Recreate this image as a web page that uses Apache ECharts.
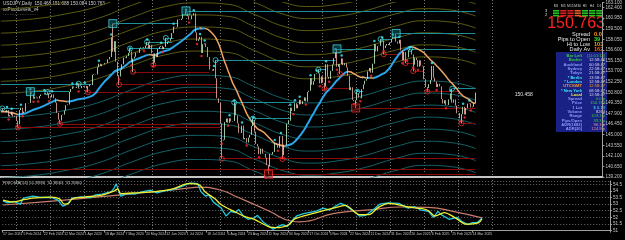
<!DOCTYPE html>
<html>
<head>
<meta charset="utf-8">
<script src="https://cdn.jsdelivr.net/npm/echarts@6/dist/echarts.min.js"></script>
<style>
html, body { margin: 0; padding: 0; background: #000; }
#chart { width: 625px; height: 240px; }
</style>
</head>
<body>
<div id="chart"></div>
<script>
// ---- data (USDJPY daily) ----
var firstDay = '2024-01-17';
var skipDays = ['2024-03-29', '2024-12-25', '2025-01-01'];
var futureBars = 81;   // empty space MT4 keeps right of the last bar

var closes = [
  // Jan 2024
  148.15, 148.14, 148.13, 148.10, 148.37, 147.50, 147.66, 148.13, 147.48, 147.60, 146.91,
  // Feb
  146.43, 148.37, 148.69, 147.92, 148.16, 149.30, 149.29, 149.34, 150.80, 150.59, 149.93,
  150.20, 150.08, 149.96, 150.29, 150.50, 150.51, 150.68, 150.50, 150.67, 149.98,
  // Mar
  150.11, 150.52, 149.99, 149.38, 147.98, 147.06, 146.94, 147.68, 147.74, 148.30, 149.03,
  149.13, 150.85, 151.26, 151.60, 151.43, 151.40, 151.56, 151.33, 151.37,
  // Apr
  151.67, 151.56, 151.69, 151.34, 151.63, 151.85, 151.79, 153.21, 153.30, 153.25, 154.23,
  154.71, 154.39, 154.64, 154.63, 154.80, 154.83, 155.32, 155.63, 158.32, 156.34, 157.80,
  // May
  155.00, 153.03, 152.97, 153.92, 154.64, 155.55, 155.48, 155.76, 156.20, 156.40, 154.93,
  155.42, 155.67, 156.24, 156.20, 156.79, 156.95, 156.99, 156.87, 157.19, 157.62, 156.80, 157.30,
  // Jun
  156.12, 154.82, 156.13, 155.63, 156.74, 157.04, 157.17, 156.70, 157.03, 157.40, 157.73,
  157.85, 158.14, 158.91, 159.79, 159.69, 159.73, 160.78, 160.70, 160.88,
  // Jul
  161.47, 161.45, 161.70, 161.22, 160.76, 160.82, 161.33, 161.62, 158.99, 157.84, 158.07,
  158.39, 156.18, 157.38, 157.50, 157.00, 155.62, 153.92, 153.92, 153.76, 154.00, 152.73, 149.98,
  // Aug
  149.34, 146.55, 144.18, 144.30, 146.71, 147.21, 146.62, 147.24, 146.82, 146.87, 149.27,
  147.63, 146.54, 145.24, 145.22, 146.24, 144.37, 144.53, 143.91, 144.59, 144.97, 146.17,
  // Sep
  146.93, 145.41, 143.73, 143.40, 142.32, 143.08, 142.42, 142.38, 141.84, 140.82, 140.64,
  142.34, 142.29, 142.62, 143.86, 143.60, 143.20, 144.78, 144.82, 142.19, 143.63,
  // Oct
  143.54, 146.50, 146.90, 148.69, 148.22, 148.21, 149.31, 148.61, 149.13, 149.77, 149.17,
  149.62, 150.10, 149.53, 150.85, 151.01, 152.74, 151.83, 152.31, 153.30, 153.39, 153.39, 152.03,
  // Nov
  152.98, 152.12, 151.60, 154.64, 152.92, 152.64, 153.73, 154.62, 155.47, 156.27, 154.30,
  154.66, 154.63, 155.44, 154.51, 154.79, 154.19, 153.07, 151.10, 151.49, 149.76,
  // Dec
  149.58, 149.71, 150.60, 150.08, 149.99, 151.22, 151.88, 152.39, 152.64, 153.67, 154.13,
  153.48, 154.72, 157.40, 156.41, 157.14, 157.17, 157.83, 157.89, 156.87, 157.20,
  // Jan 2025
  157.42, 157.27, 157.63, 158.10, 158.30, 158.19, 157.73, 157.47, 158.00, 156.53, 155.18,
  156.33, 155.60, 155.59, 156.56, 156.57, 155.97, 154.58, 155.52, 155.21, 154.30, 155.17,
  // Feb
  154.45, 154.36, 152.58, 151.51, 151.40, 151.92, 152.48, 154.41, 152.81, 152.28, 151.51,
  151.96, 151.60, 149.88, 149.27, 149.71, 149.04, 149.07, 149.83, 150.63,
  // Mar
  149.39, 149.82, 148.97, 147.93, 147.97, 147.22, 147.81, 148.82, 147.76, 148.64, 149.24,
  149.28, 148.73, 148.82, 149.32, 150.763
];

// mid line of the envelope fan, and the offsets of its lines
var bandMid = [
  ['2024-01-17', 149.0], ['2024-02-15', 149.3], ['2024-03-15', 150.0], ['2024-04-15', 151.0],
  ['2024-05-15', 152.8], ['2024-06-14', 154.3], ['2024-07-15', 154.8], ['2024-08-09', 154.6],
  ['2024-09-02', 153.3], ['2024-10-01', 151.5], ['2024-10-23', 151.0], ['2024-11-15', 151.3],
  ['2024-12-10', 152.0], ['2025-01-10', 153.3], ['2025-02-05', 154.0], ['2025-03-03', 153.8],
  ['2025-03-24', 153.0]
];
var bandOffsets = [1.65, 3.3, 4.95, 6.6, 8.25, 9.9, 11.55, 13.2];

// support / resistance lines: [from, to, price]
var highLevels = [
  ['2024-01-17', '2024-02-02', 148.6], ['2024-01-17', '2024-04-09', 151.9],
  ['2024-02-13', '2024-03-19', 150.89], ['2024-04-29', '2024-06-26', 160.21],
  ['2024-05-14', '2024-06-19', 156.8], ['2024-05-29', '2024-06-20', 157.7],
  ['2024-06-14', '2024-06-21', 158.25], ['2024-07-03', '2025-03-24', 161.95],
  ['2024-07-30', '2024-11-14', 155.2], ['2024-08-15', '2024-10-09', 149.4],
  ['2024-09-02', '2024-10-04', 147.2], ['2024-10-30', '2024-11-06', 153.9],
  ['2024-11-15', '2024-12-19', 156.75], ['2024-12-04', '2024-12-10', 150.9],
  ['2024-12-26', '2025-01-07', 158.08], ['2025-01-10', '2025-03-24', 158.87],
  ['2025-01-23', '2025-03-24', 156.75], ['2025-03-03', '2025-03-24', 151.3]
];
var lowLevels = [
  ['2024-01-17', '2025-03-24', 140.25], ['2024-02-01', '2024-08-02', 146.0],
  ['2024-03-11', '2024-08-02', 146.48], ['2024-04-05', '2024-07-31', 150.8],
  ['2024-05-03', '2024-07-30', 151.86], ['2024-05-16', '2024-07-24', 153.6],
  ['2024-06-04', '2024-07-25', 154.55], ['2024-08-05', '2025-03-24', 141.7],
  ['2024-09-16', '2025-03-24', 139.58], ['2024-11-05', '2024-11-27', 151.3],
  ['2024-11-19', '2024-11-26', 153.3], ['2024-12-03', '2025-03-24', 148.65],
  ['2024-12-30', '2025-01-15', 156.0], ['2025-01-20', '2025-01-27', 154.8],
  ['2025-01-27', '2025-02-05', 153.7], ['2025-02-07', '2025-03-10', 150.9],
  ['2025-03-11', '2025-03-24', 146.55]
];

// swing points (also the wick ends of those days)
var majorHighs = [['2024-02-13', 150.89], ['2024-04-29', 160.21], ['2024-07-03', 161.95],
  ['2024-11-15', 156.75], ['2025-01-10', 158.87]];
var majorLows = [['2024-09-16', 139.58], ['2024-12-03', 148.65]];
var minorHighs = [['2024-01-18', 148.6], ['2024-02-28', 150.8], ['2024-03-27', 151.97],
  ['2024-05-14', 156.8], ['2024-05-29', 157.7], ['2024-06-14', 158.25], ['2024-07-30', 155.2],
  ['2024-08-15', 149.4], ['2024-09-02', 147.2], ['2024-10-30', 153.9], ['2024-12-04', 150.9],
  ['2024-12-26', 158.08], ['2025-01-23', 156.75], ['2025-03-03', 151.3]];
var minorLows = [['2024-02-01', 146.0], ['2024-03-11', 146.48], ['2024-04-05', 150.8],
  ['2024-05-03', 151.86], ['2024-05-16', 153.6], ['2024-06-04', 154.55], ['2024-08-05', 141.7],
  ['2024-09-27', 141.65], ['2024-11-05', 151.3], ['2024-11-19', 153.3], ['2024-12-30', 156.0],
  ['2025-01-20', 154.8], ['2025-01-27', 153.7], ['2025-02-07', 150.9], ['2025-03-11', 146.55]];

// lower window oscillator
var oscFast = [
  ['2024-01-17', 53.25], ['2024-01-22', 53.1], ['2024-01-26', 53.2], ['2024-02-01', 53.0],
  ['2024-02-05', 53.45], ['2024-02-13', 53.6], ['2024-02-20', 53.5], ['2024-02-29', 53.5],
  ['2024-03-06', 53.3], ['2024-03-11', 52.85], ['2024-03-14', 53.0], ['2024-03-19', 53.45],
  ['2024-03-27', 53.55], ['2024-04-05', 53.5], ['2024-04-10', 53.7], ['2024-04-16', 53.75],
  ['2024-04-24', 53.95], ['2024-04-26', 54.25], ['2024-04-29', 54.55], ['2024-05-02', 53.6],
  ['2024-05-08', 53.8], ['2024-05-15', 53.75], ['2024-05-22', 53.95], ['2024-05-29', 54.05],
  ['2024-06-04', 53.85], ['2024-06-11', 54.0], ['2024-06-18', 54.1], ['2024-06-26', 54.35],
  ['2024-07-03', 54.6], ['2024-07-10', 54.55], ['2024-07-12', 53.95], ['2024-07-17', 53.6],
  ['2024-07-19', 53.7], ['2024-07-24', 53.15], ['2024-07-31', 52.7], ['2024-08-05', 52.1],
  ['2024-08-08', 52.45], ['2024-08-13', 52.35], ['2024-08-15', 52.6], ['2024-08-20', 52.1],
  ['2024-08-23', 51.85], ['2024-08-29', 51.95], ['2024-09-02', 52.15], ['2024-09-06', 51.6],
  ['2024-09-11', 51.35], ['2024-09-16', 51.1], ['2024-09-19', 51.3], ['2024-09-24', 51.45],
  ['2024-09-27', 51.3], ['2024-10-02', 51.75], ['2024-10-07', 52.1], ['2024-10-14', 52.3],
  ['2024-10-23', 52.45], ['2024-10-30', 52.7], ['2024-11-05', 52.55], ['2024-11-08', 52.8],
  ['2024-11-14', 53.05], ['2024-11-19', 52.9], ['2024-11-27', 52.4], ['2024-12-02', 52.1],
  ['2024-12-06', 52.15], ['2024-12-13', 52.6], ['2024-12-19', 53.0], ['2024-12-27', 53.1],
  ['2025-01-08', 53.05], ['2025-01-16', 52.7], ['2025-01-22', 52.8], ['2025-01-28', 52.55],
  ['2025-02-04', 52.45], ['2025-02-07', 52.0], ['2025-02-12', 52.45], ['2025-02-14', 52.2],
  ['2025-02-21', 51.85], ['2025-02-28', 52.0], ['2025-03-05', 51.7], ['2025-03-11', 51.45],
  ['2025-03-14', 51.6], ['2025-03-19', 51.6], ['2025-03-24', 51.92]
];
var oscSignal = [
  ['2024-01-17', 53.3], ['2024-01-25', 53.16], ['2024-02-06', 53.35], ['2024-02-13', 53.46],
  ['2024-02-29', 53.53], ['2024-03-07', 53.4], ['2024-03-12', 53.0], ['2024-03-15', 53.08],
  ['2024-03-19', 53.4], ['2024-04-01', 53.53], ['2024-04-16', 53.68], ['2024-04-26', 54.0],
  ['2024-04-30', 54.15], ['2024-05-02', 53.8], ['2024-05-15', 53.85], ['2024-06-03', 53.95],
  ['2024-06-18', 54.15], ['2024-07-02', 54.55], ['2024-07-11', 54.45], ['2024-07-17', 53.9],
  ['2024-07-25', 53.4], ['2024-07-31', 52.95], ['2024-08-13', 52.4], ['2024-08-21', 52.05],
  ['2024-08-29', 51.85], ['2024-09-11', 51.3], ['2024-09-20', 51.22], ['2024-09-30', 51.44],
  ['2024-10-04', 51.9], ['2024-10-23', 52.34], ['2024-11-08', 52.71], ['2024-11-19', 52.9],
  ['2024-12-02', 52.2], ['2024-12-10', 52.2], ['2024-12-18', 52.75], ['2024-12-30', 53.05],
  ['2025-01-16', 52.78], ['2025-01-29', 52.65], ['2025-02-04', 52.5], ['2025-02-10', 52.1],
  ['2025-02-18', 52.35], ['2025-02-27', 51.96], ['2025-03-10', 51.48], ['2025-03-20', 51.6],
  ['2025-03-24', 51.89]
];
var oscSlow = [
  ['2024-01-17', 52.93], ['2024-03-12', 53.3], ['2024-04-30', 53.68], ['2024-06-14', 54.05],
  ['2024-07-05', 54.25], ['2024-07-11', 54.28], ['2024-07-31', 54.05], ['2024-08-13', 53.6],
  ['2024-09-11', 52.5], ['2024-10-02', 51.7], ['2024-10-09', 51.66], ['2024-11-08', 52.3],
  ['2024-12-10', 52.56], ['2025-01-10', 52.78], ['2025-02-04', 52.75], ['2025-02-27', 52.41],
  ['2025-03-24', 51.96]
];

var headerText = 'USDJPY,Daily  150.468 151.088 150.084 150.763';
var subTitle = 'RSIOMA(14) 51.8936  51.8663  51.9460';
var noteText = '150.458';
var notePrice = 150.458;

// ---- helpers ----
var months = ['Jan','Feb','Mar','Apr','May','Jun','Jul','Aug','Sep','Oct','Nov','Dec'];
var dates = [];
(function () {
  var d = new Date(firstDay + 'T00:00:00Z');
  while (dates.length < closes.length + futureBars) {
    var key = d.toISOString().slice(0, 10);
    var wd = d.getUTCDay();
    if (wd !== 0 && wd !== 6 && skipDays.indexOf(key) < 0) dates.push(key);
    d.setUTCDate(d.getUTCDate() + 1);
  }
})();
var lastIdx = closes.length - 1;
var labelEvery = 13;

function fmtDate(s) {
  var p = s.split('-');
  return (+p[2]) + ' ' + months[+p[1] - 1] + ' ' + p[0];
}
function showLabel(idx) { return idx <= lastIdx && idx % labelEvery === 0; }

// wick ends taken from the swing lists
var wickHi = {}, wickLo = {};
majorHighs.concat(minorHighs).forEach(function (p) { wickHi[p[0]] = p[1]; });
majorLows.concat(minorLows).forEach(function (p) { wickLo[p[0]] = p[1]; });

var candles = closes.map(function (c, i) {
  var o = i ? closes[i - 1] : c;
  var hi = Math.max(o, c), lo = Math.min(o, c);
  if (wickHi[dates[i]] > hi) hi = wickHi[dates[i]];
  if (wickLo[dates[i]] < lo) lo = wickLo[dates[i]];
  return [o, c, lo, hi];
});

// fractal dots
var hiDots = [], loDots = [];
for (var i = 2; i < closes.length - 2; i++) {
  var c = closes[i];
  if (c > closes[i - 1] && c > closes[i - 2] && c >= closes[i + 1] && c >= closes[i + 2]) hiDots.push([dates[i], c]);
  if (c < closes[i - 1] && c < closes[i - 2] && c <= closes[i + 1] && c <= closes[i + 2]) loDots.push([dates[i], Math.min(c, closes[i - 1])]);
}

// trend moving average, blue while rising, orange while falling
var maPeriod = 25;
var ma = closes.map(function (c, i) {
  var s = 0, n = 0;
  for (var j = Math.max(0, i - maPeriod + 1); j <= i; j++) { s += closes[j]; n++; }
  return s / n;
});
var maUp = [], maDown = [];
ma.forEach(function (v, i) {
  var before = i === 0 ? null : v >= ma[i - 1];
  var after = i === ma.length - 1 ? null : ma[i + 1] >= v;
  maUp.push(before === true || after === true ? v : null);
  maDown.push(before === false || after === false ? v : null);
});

var series = [];
bandOffsets.forEach(function (off) {
  series.push({
    type: 'line', xAxisIndex: 0, yAxisIndex: 0, smooth: true, symbol: 'none', silent: true, z: 1,
    lineStyle: { color: '#5c5c12', width: 1 },
    data: bandMid.map(function (p) { return [p[0], p[1] + off]; })
  });
  series.push({
    type: 'line', xAxisIndex: 0, yAxisIndex: 0, smooth: true, symbol: 'none', silent: true, z: 1,
    lineStyle: { color: '#136266', width: 1 },
    data: bandMid.map(function (p) { return [p[0], p[1] - off]; })
  });
});

function levelLines(list, color) {
  return list.map(function (l) {
    return [{ coord: [l[0], l[2]], lineStyle: { color: color, width: 1, type: 'solid' } },
            { coord: [l[1], l[2]] }];
  });
}

series.push({
  type: 'line', xAxisIndex: 0, yAxisIndex: 0, symbol: 'none', z: 3,
  lineStyle: { color: '#2aa6ea', width: 2 }, data: maUp
});
series.push({
  type: 'line', xAxisIndex: 0, yAxisIndex: 0, symbol: 'none', z: 3,
  lineStyle: { color: '#f0a464', width: 1.5 }, data: maDown
});

series.push({
  type: 'candlestick', xAxisIndex: 0, yAxisIndex: 0, z: 4, barWidth: 1.3,
  itemStyle: { color: '#a6ecac', color0: '#f2a08c', borderColor: '#c8f5c8', borderColor0: '#f4b2a4', borderWidth: 0.8 },
  data: candles,
  markLine: {
    silent: true, symbol: 'none', animation: false, z: 2,
    label: { show: false },
    data: levelLines(highLevels, '#1d8d96').concat(levelLines(lowLevels, '#8a0a0a')).concat([{
      yAxis: closes[lastIdx],
      lineStyle: { opacity: 0 },
      label: { show: true, position: 'end', distance: 1, formatter: closes[lastIdx].toFixed(3),
        backgroundColor: '#f4f4f4', color: '#000', fontSize: 4.6, padding: [1, 1, 0, 1] }
    }])
  },
  markPoint: {
    silent: true, symbol: 'circle', symbolSize: 0,
    data: [{ coord: [dates[lastIdx + 22], notePrice],
      label: { show: true, formatter: noteText, color: '#e0e0e0', fontSize: 5, position: 'right' } }]
  }
});

series.push({
  type: 'scatter', xAxisIndex: 0, yAxisIndex: 0, z: 5, symbolSize: 2.5, symbolOffset: [0, -3],
  itemStyle: { color: '#40f0ff' }, data: hiDots
});
series.push({
  type: 'scatter', xAxisIndex: 0, yAxisIndex: 0, z: 5, symbolSize: 2.5, symbolOffset: [0, 3],
  itemStyle: { color: '#ff2a2a' }, data: loDots
});
series.push({
  type: 'scatter', xAxisIndex: 0, yAxisIndex: 0, z: 6, symbol: 'circle', symbolSize: 5,
  itemStyle: { color: 'rgba(0,0,0,0)', borderColor: '#40e8f0', borderWidth: 0.9 }, data: minorHighs
});
series.push({
  type: 'scatter', xAxisIndex: 0, yAxisIndex: 0, z: 6, symbol: 'circle', symbolSize: 5,
  itemStyle: { color: 'rgba(0,0,0,0)', borderColor: '#ff3030', borderWidth: 0.9 }, data: minorLows
});
series.push({
  type: 'scatter', xAxisIndex: 0, yAxisIndex: 0, z: 6, symbol: 'rect', symbolSize: 8,
  itemStyle: { color: 'rgba(20,110,120,0.6)', borderColor: '#40e8f0', borderWidth: 0.9 }, data: majorHighs
});
series.push({
  type: 'scatter', xAxisIndex: 0, yAxisIndex: 0, z: 6, symbol: 'rect', symbolSize: 8,
  itemStyle: { color: 'rgba(120,10,10,0.6)', borderColor: '#ff3030', borderWidth: 0.9 }, data: majorLows
});

// lower window
series.push({ type: 'line', xAxisIndex: 1, yAxisIndex: 1, symbol: 'none', z: 2,
  lineStyle: { color: '#c87c6c', width: 1.2 }, smooth: true, data: oscSlow });
series.push({ type: 'line', xAxisIndex: 1, yAxisIndex: 1, symbol: 'none', z: 3,
  lineStyle: { color: '#22c8e0', width: 1.3 }, data: oscFast });
series.push({ type: 'line', xAxisIndex: 1, yAxisIndex: 1, symbol: 'none', z: 4,
  lineStyle: { color: '#f0f030', width: 1.3 }, smooth: 0.3, data: oscSignal });
// carrier for the vertical grid
series.push({ type: 'line', xAxisIndex: 2, yAxisIndex: 2, data: [], silent: true });

// ---- info panel (layout only) ----
var tfNames = ['M1', 'M5', 'M15', 'M30', 'H1', 'H4', 'D1'];
var tfColors = ['#22c422', '#d42020', '#d42020', '#e85a2a', '#22c422', '#22c422', '#22c422'];
var panelRows = [
  ['Bar Left', '[11:01:14]', '#33cc33', '#33cc33'],
  ['Broker', '12:58:46', '#33cc33', '#d8d8f0'],
  ['Auckland', '00:58:47', '#8c9cff', '#d8d8f0'],
  ['Sydney', '22:58:47', '#8c9cff', '#d8d8f0'],
  ['Tokyo', '21:58:47', '#8c9cff', '#d8d8f0'],
  ['* Berlin', '13:58:47', '#38e8f0', '#d8d8f0'],
  ['* London', '12:58:47', '#38e8f0', '#d8d8f0'],
  ['UTC/GMT', '12:58:47', '#ff9a20', '#ff9a20'],
  ['* New York', '08:58:47', '#38e8f0', '#d8d8f0'],
  ['Local', '12:58:47', '#f0f040', '#d8d8f0'],
  ['Spread', '0.0 p', '#8c9cff', '#33cc33'],
  ['Price', '150.763', '#8c9cff', '#33cc33'],
  ['1 Lot', '$ 6.13', '#8c9cff', '#38e8f0'],
  ['Volume', '8264', '#8c9cff', '#d8d8f0'],
  ['Range', '103.3 p', '#8c9cff', '#33cc33'],
  ['Pips/Open', '39.3 p', '#8c9cff', '#33cc33'],
  ['ADR(1682)', '96.3 p', '#8c9cff', '#e890b0'],
  ['ADR(20)', '124.9 p', '#8c9cff', '#e890b0']
];
var statRows = [
  ['Spread', '0.0', '#ff9a20'],
  ['Pips to Open', '39', '#33dd33'],
  ['Hi to Low', '103', '#ff9a20'],
  ['Daily Av', '162', '#ff5a20']
];

var graphics = [
  { type: 'text', left: 3, top: 1, style: { text: headerText, fill: '#d0d0d0', font: '4.6px Liberation Sans' } },
  { type: 'text', left: 3, top: 7, style: { text: 'xxPivotLevels_v4', fill: '#d0d0d0', font: '4.6px Liberation Sans' } },
  { type: 'text', left: 3, top: 12, style: { text: '\u00b7\u00b7\u00b7\u00b7\u00b7\u00b7\u00b7\u00b7\u00b7\u00b7\u00b7\u00b7\u00b7\u00b7\u00b7\u00b7\u00b7\u00b7\u00b7\u00b7', fill: '#a0a0a0', font: '5px Liberation Sans' } },
  { type: 'text', left: 3, top: 181, style: { text: subTitle, fill: '#c8c8c8', font: '4.4px Liberation Sans' } },
  { type: 'text', left: 545, top: 9, style: { text: '3\n2', fill: '#e0e0e0', font: '4px Liberation Sans' } },
  { type: 'text', right: 20, top: 16, style: { text: closes[lastIdx].toFixed(3), fill: '#ff2020', font: '16px Liberation Sans', textAlign: 'right' } },
  { type: 'rect', shape: { x: 556, y: 52, width: 51, height: 80 }, style: { fill: '#1a2184' } }
];
tfNames.forEach(function (n, k) {
  var x = 553 + k * 7.2;
  graphics.push({ type: 'text', x: x + 3, y: 5, style: { text: n, fill: '#d0d0d0', font: '3.4px Liberation Sans', textAlign: 'center' } });
  for (var r = 0; r < 3; r++) {
    graphics.push({ type: 'rect', shape: { x: x, y: 10 + r * 2.4, width: 6.2, height: 1.6 }, style: { fill: tfColors[k] } });
  }
});
statRows.forEach(function (r, k) {
  var y = 31 + k * 5;
  graphics.push({ type: 'text', x: 590, y: y, style: { text: r[0], fill: '#e8e8e8', font: '5.6px Liberation Sans', textAlign: 'right' } });
  graphics.push({ type: 'text', x: 594, y: y, style: { text: r[1], fill: r[2], font: 'bold 5.6px Liberation Sans' } });
});
panelRows.forEach(function (r, k) {
  var y = 54 + k * 4.3;
  graphics.push({ type: 'text', x: 582, y: y, style: { text: r[0], fill: r[2], font: 'bold 4.1px Liberation Sans', textAlign: 'right' } });
  graphics.push({ type: 'text', x: 605, y: y, style: { text: r[1], fill: r[3], font: '4.1px Liberation Sans', textAlign: 'right' } });
});

var axisText = { fontSize: 4.6, color: '#c8c8c8', fontFamily: 'Liberation Sans' };

var option = {
  backgroundColor: '#000',
  animation: false,
  grid: [
    { left: 0, right: 15, top: 0, height: 177 },
    { left: 0, right: 15, top: 181, height: 49.5 },
    { left: 16, width: 476, top: 0, height: 230.5 }
  ],
  xAxis: [
    { type: 'category', gridIndex: 0, data: dates, boundaryGap: true,
      axisLine: { lineStyle: { color: '#c4c4c4', width: 2 } }, axisTick: { show: false },
      axisLabel: { show: false }, splitLine: { show: false } },
    { type: 'category', gridIndex: 1, data: dates, boundaryGap: true,
      axisLine: { lineStyle: { color: '#a0a0a0', width: 1 } },
      axisTick: { show: true, length: 2, lineStyle: { color: '#a0a0a0' }, interval: showLabel },
      axisLabel: { margin: 2, align: 'left', interval: showLabel, showMinLabel: true, hideOverlap: false,
        fontSize: 3.5, color: '#c8c8c8', fontFamily: 'Liberation Sans',
        formatter: function (v) { return fmtDate(v); } },
      splitLine: { show: false } },
    { type: 'value', gridIndex: 2, min: 0, max: 476, interval: 34,
      axisLine: { show: false }, axisTick: { show: false }, axisLabel: { show: false },
      splitLine: { show: true, lineStyle: { color: '#777', width: 1, type: [1, 2] } } }
  ],
  yAxis: [
    { type: 'value', gridIndex: 0, position: 'right', min: 139.2, max: 163.1, interval: 1.45,
      axisLine: { show: true, lineStyle: { color: '#a0a0a0' } },
      axisTick: { show: true, length: 2, lineStyle: { color: '#a0a0a0' } },
      axisLabel: Object.assign({ margin: 3, formatter: function (v) { return v.toFixed(3); } }, axisText),
      splitLine: { show: false } },
    { type: 'value', gridIndex: 1, position: 'right', min: 51, max: 54.75, interval: 0.5,
      axisLine: { show: true, lineStyle: { color: '#a0a0a0' } },
      axisTick: { show: true, length: 2, lineStyle: { color: '#a0a0a0' } },
      axisLabel: Object.assign({ margin: 3 }, axisText),
      splitLine: { show: true, lineStyle: { color: '#6c6c6c', width: 1, type: [1, 2] } } },
    { type: 'value', gridIndex: 2, min: 0, max: 1, show: false }
  ],
  graphic: graphics,
  series: series
};

var chart = echarts.init(document.getElementById('chart'), null, { renderer: 'canvas' });
chart.setOption(option);
</script>
</body>
</html>
